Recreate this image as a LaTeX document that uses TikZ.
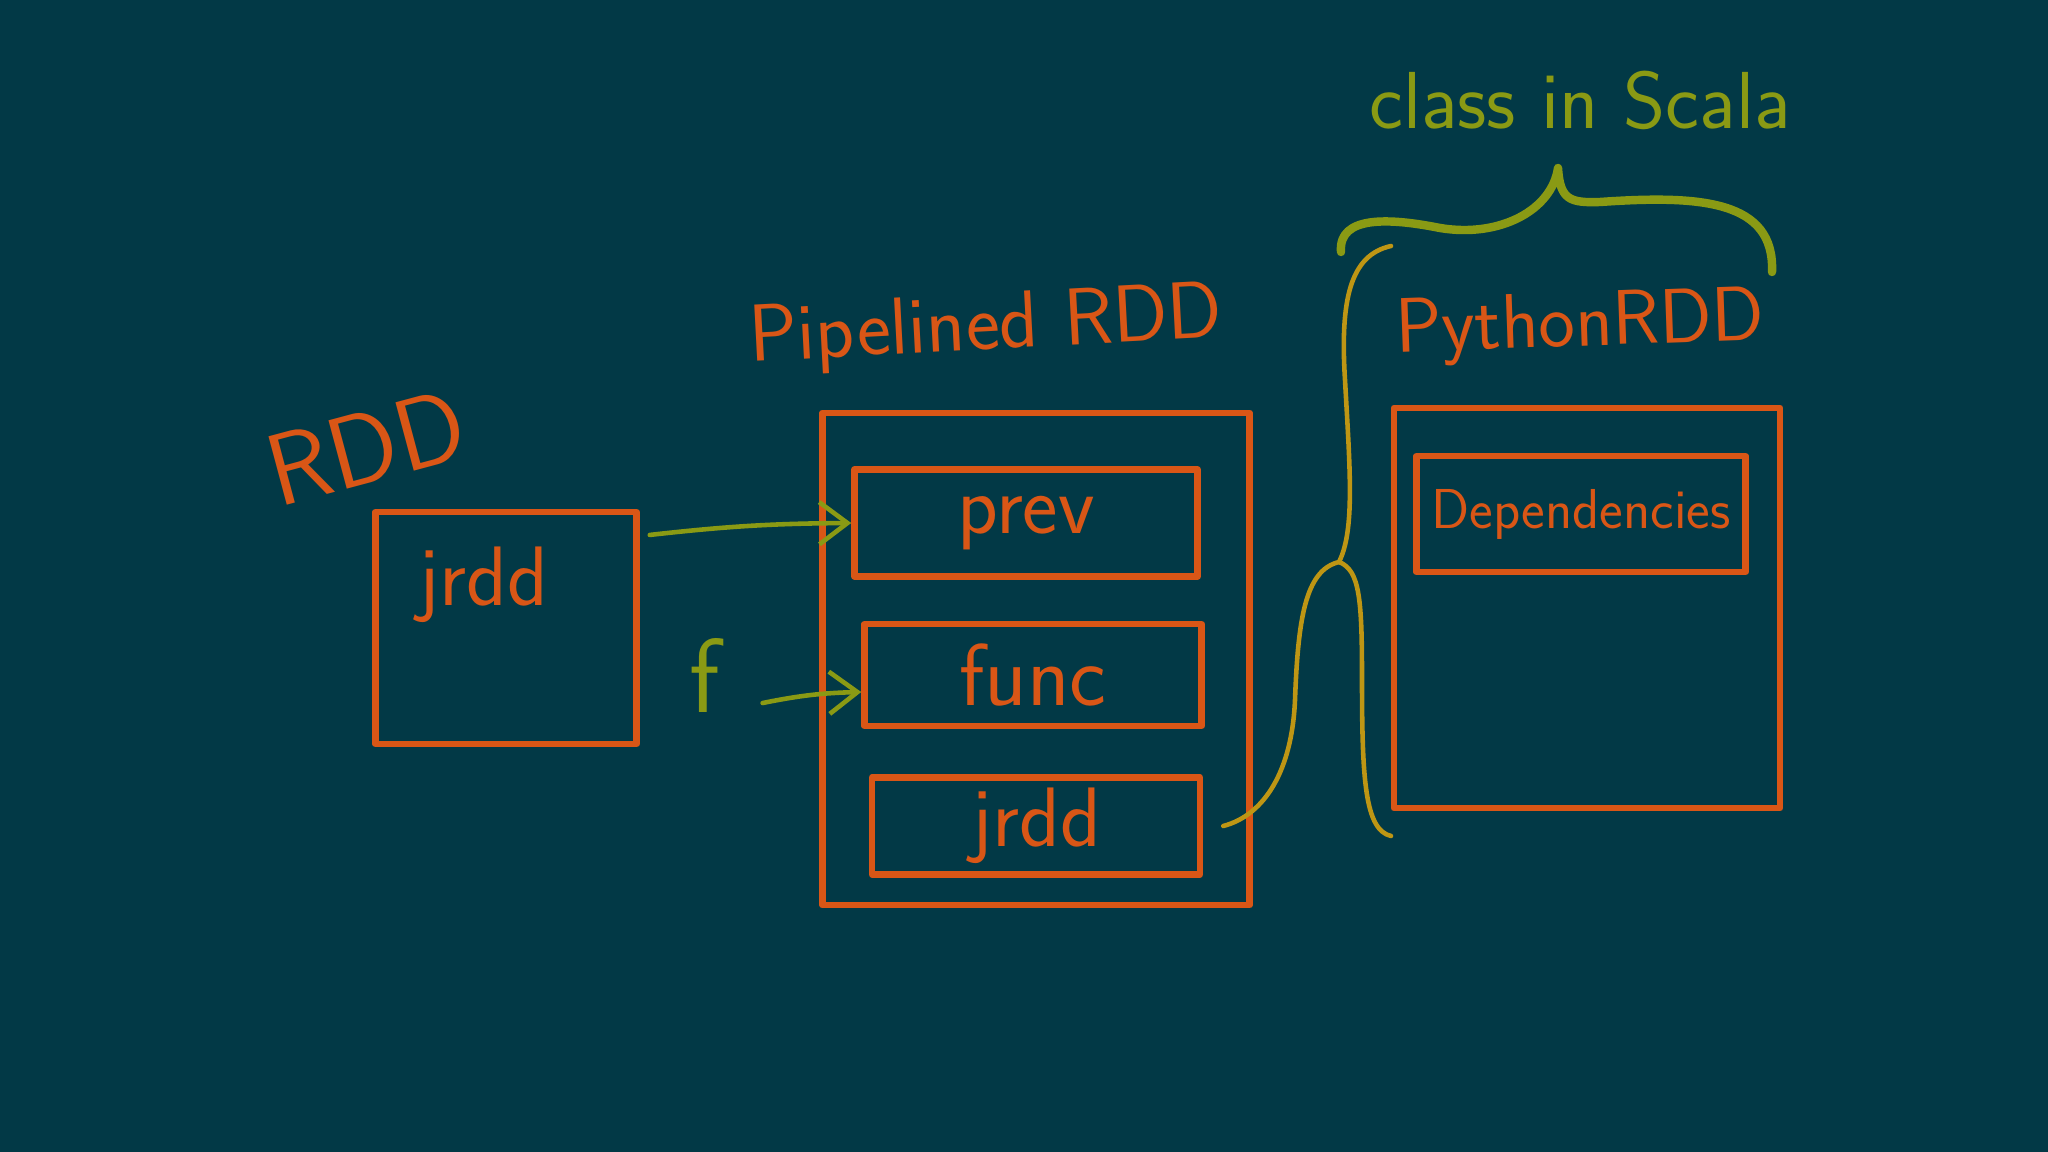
\documentclass[tikz,border=0pt]{standalone}
\usepackage{fontspec}
\usepackage{tikz}
\usetikzlibrary{arrows.meta}

\definecolor{board}{RGB}{2,57,70}
\definecolor{chalkorange}{RGB}{217,86,22}
\definecolor{chalkgreen}{RGB}{138,154,20}
\definecolor{chalkyellow}{RGB}{190,150,20}

\newcommand{\chalk}[1]{\sffamily\fontsize{#1}{#1}\selectfont}

\tikzset{
  box/.style={draw=chalkorange, line width=1.8pt, line join=round, text=chalkorange, inner sep=0pt},
  hand/.style={text=chalkorange, inner sep=1pt},
  link/.style={draw=chalkgreen, line width=1.3pt, line cap=round, -{Straight Barb[length=8pt,width=12pt]}},
  scalabrace/.style={draw=chalkgreen, line width=2.4pt, line cap=round, line join=round},
  pybrace/.style={draw=chalkyellow, line width=1.3pt, line cap=round, line join=round}
}

\begin{document}
\begin{tikzpicture}[x=0.01cm,y=-0.01cm]
          % board
          \fill[board] (0,0) rectangle (2048,1152);
          % rdd
          \node[hand, rotate=15, font=\chalk{29}] (rddlabel) at (366,447) {RDD};
          \node[box, minimum width=2.61cm, minimum height=2.32cm] (rddbox) at (506,628) {};
          \node[hand, font=\chalk{24}] (rddjrdd) at (483,585) {jrdd};
          % pipelined rdd
          \node[hand, rotate=3, font=\chalk{23}] (pipelabel) at (986,329) {Pipelined RDD};
          \node[box, minimum width=4.27cm, minimum height=4.92cm] (pipebox) at (1036,659) {};
          \node[box, minimum width=3.43cm, minimum height=1.07cm, font=\chalk{24}] (prevbox) at (1026,523) {prev};
          \node[box, minimum width=3.37cm, minimum height=1.02cm, font=\chalk{25}] (funcbox) at (1033,675) {func};
          \node[box, minimum width=3.28cm, minimum height=0.97cm, font=\chalk{24}] (jrddbox) at (1036,826) {jrdd};
          % function argument
          \node[text=chalkgreen, font=\chalk{30}] (f) at (705,675) {f};
          % links into the pipelined rdd
          \draw[link] ([shift={(0.1cm,0.93cm)}]rddbox.east) to[bend left=3] (prevbox.west);
          \draw[link] ([shift={(0.3cm,-0.28cm)}]f.east) to[bend left=5] ([yshift=-0.17cm]funcbox.west);
          % python rdd
          \node[hand, rotate=2, font=\chalk{22}] (pylabel) at (1580,327) {PythonRDD};
          \node[box, minimum width=3.86cm, minimum height=4.0cm] (pybox) at (1587,608) {};
          \node[box, minimum width=3.29cm, minimum height=1.16cm, font=\chalk{16}] (depbox) at (1581,514) {Dependencies};
          % brace round the python rdd
          \coordinate (cusp) at (1339,562);
          \draw[pybrace] (1391,246) .. controls (1350,255) and (1340,300) .. (1345,380)
            .. controls (1350,470) and (1355,530) .. (cusp)
            .. controls (1360,570) and (1362,600) .. (1362,680)
            .. controls (1362,780) and (1365,830) .. (1391,836);
          \draw[pybrace] ([xshift=0.2cm]jrddbox.east) .. controls (1265,815) and (1292,770) .. (1295,700)
            .. controls (1298,620) and (1305,570) .. (cusp);
          % class in scala
          \coordinate (scalacusp) at (1558,168);
          \draw[scalabrace] (1341,252) .. controls (1338,215) and (1390,218) .. (1440,228)
            .. controls (1500,238) and (1552,210) .. (scalacusp)
            .. controls (1560,200) and (1570,203) .. (1600,202)
            .. controls (1700,195) and (1775,200) .. (1772,272);
          \node[text=chalkgreen, font=\chalk{23}] (scalalabel) at (1580,100) {class in Scala};
        \end{tikzpicture}
\end{document}
